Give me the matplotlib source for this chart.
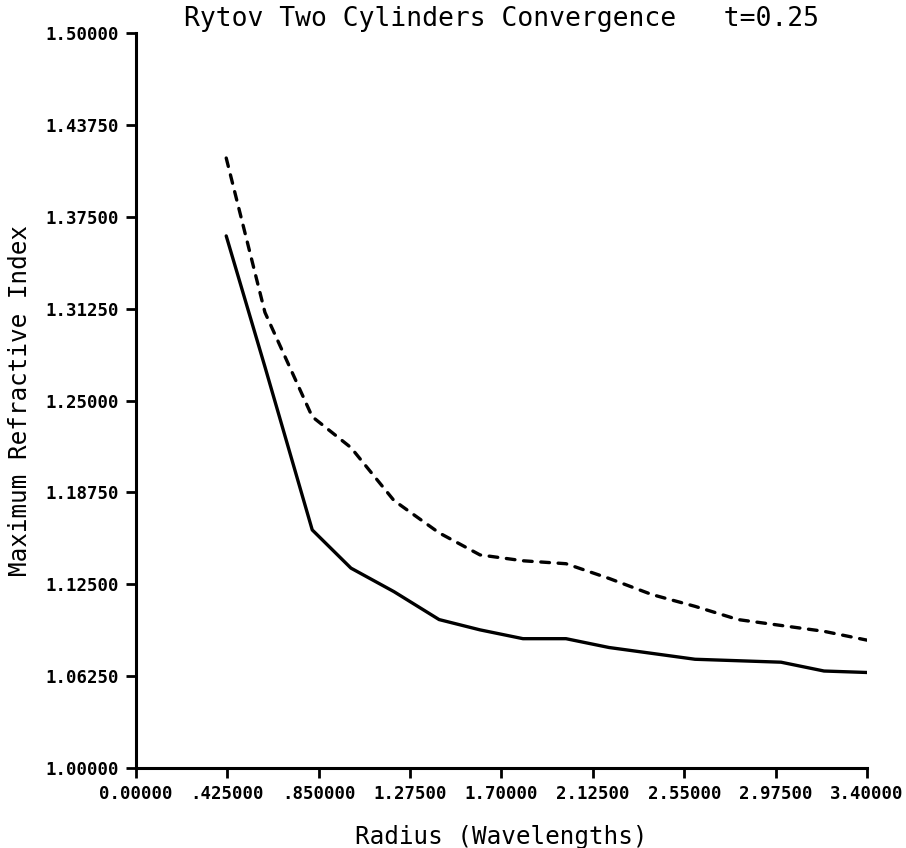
# Rytov two cylinders convergence, t=0.25
import numpy as np
import matplotlib
matplotlib.use('Agg')
import matplotlib.pyplot as plt

# %% Datos
radio = [0.42, 0.60, 0.82, 1.00, 1.20, 1.41, 1.60, 1.80,
         2.00, 2.20, 2.40, 2.60, 2.80, 3.00, 3.20, 3.40]
n_solida = [1.362, 1.273, 1.162, 1.136, 1.120, 1.101, 1.094, 1.088,
            1.088, 1.082, 1.078, 1.074, 1.073, 1.072, 1.066, 1.065]
n_trazos = [1.415, 1.310, 1.239, 1.218, 1.182, 1.160, 1.145, 1.141,
            1.139, 1.129, 1.118, 1.110, 1.101, 1.097, 1.093, 1.087]

xticks = [0.0, 0.425, 0.85, 1.275, 1.7, 2.125, 2.55, 2.975, 3.4]
xlabels = ['0.00000', '.425000', '.850000', '1.27500', '1.70000',
           '2.12500', '2.55000', '2.97500', '3.40000']
yticks = [1.0, 1.0625, 1.125, 1.1875, 1.25, 1.3125, 1.375, 1.4375, 1.5]
ylabels = ['1.00000', '1.06250', '1.12500', '1.18750', '1.25000',
           '1.31250', '1.37500', '1.43750', '1.50000']

# %% Figura
mono = 'DejaVu Sans Mono'
fig = plt.figure(figsize=(9.06, 8.48), dpi=100)
ax = fig.add_axes([0.150, 0.0943, 0.807, 0.8667])

ax.plot(radio, n_solida, color='black', lw=2.4, solid_capstyle='round')
ax.plot(radio, n_trazos, color='black', lw=2.4, dashes=(2.6, 2.6),
        dash_capstyle='round')

ax.set_xlim(0, 3.4)
ax.set_ylim(1.0, 1.5)
ax.set_xticks(xticks)
ax.set_xticklabels(xlabels, fontfamily=mono, fontweight='bold', fontsize=12.5)
ax.set_yticks(yticks)
ax.set_yticklabels(ylabels, fontfamily=mono, fontweight='bold', fontsize=12.5)
ax.tick_params(direction='out', length=7, width=2, pad=5)

for lado in ['top', 'right']:
    ax.spines[lado].set_visible(False)
for lado in ['left', 'bottom']:
    ax.spines[lado].set_linewidth(2.2)

ax.set_title('Rytov Two Cylinders Convergence   t=0.25', fontfamily=mono,
             fontsize=19, pad=5)
ax.set_xlabel('Radius (Wavelengths)', fontfamily=mono, fontsize=17.5,
              labelpad=16)
ax.set_ylabel('Maximum Refractive Index', fontfamily=mono, fontsize=17.5,
              labelpad=10)

fig.savefig('out.png', dpi=100)
